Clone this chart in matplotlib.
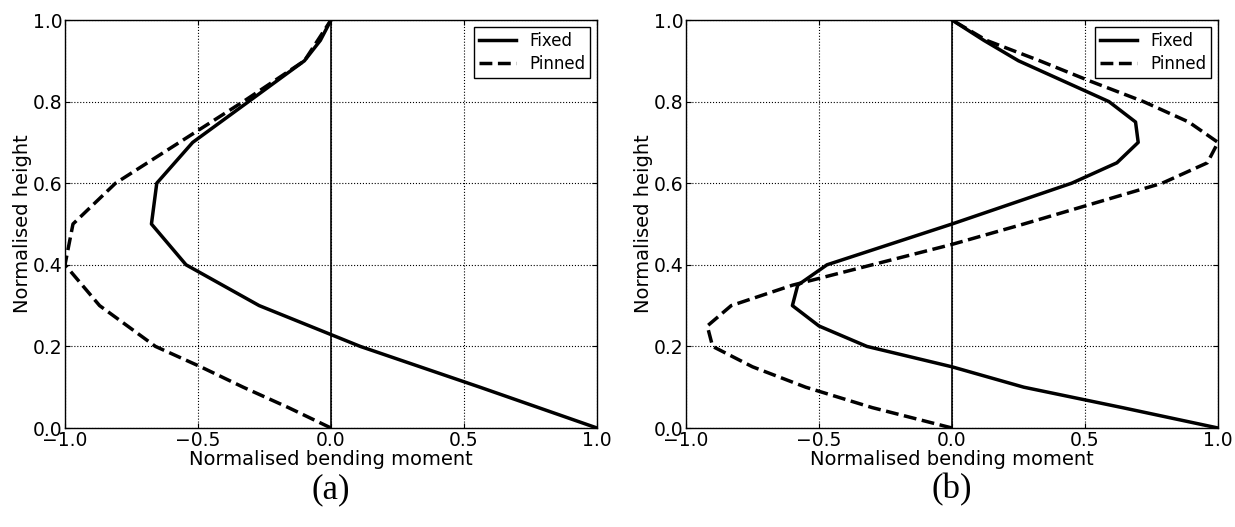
import matplotlib
matplotlib.use('Agg')
import matplotlib.pyplot as plt

# panel (a)
a_fixed_h = [0.0, 0.1, 0.2, 0.3, 0.4, 0.5, 0.6, 0.7, 0.8, 0.9, 0.95, 1.0]
a_fixed_m = [1.0, 0.56, 0.11, -0.27, -0.545, -0.675, -0.655, -0.52, -0.31, -0.1, -0.04, 0.0]
a_pinned_h = [0.0, 0.05, 0.1, 0.15, 0.2, 0.3, 0.4, 0.5, 0.6, 0.7, 0.8, 0.9, 1.0]
a_pinned_m = [0.0, -0.16, -0.33, -0.49, -0.66, -0.87, -1.0, -0.97, -0.81, -0.57, -0.33, -0.1, 0.0]

# panel (b)
b_fixed_h = [0.0, 0.05, 0.1, 0.15, 0.2, 0.25, 0.3, 0.35, 0.4, 0.5, 0.6, 0.65, 0.7, 0.75, 0.8, 0.9, 0.95, 1.0]
b_fixed_m = [1.0, 0.64, 0.27, 0.0, -0.32, -0.5, -0.6, -0.58, -0.47, 0.0, 0.45, 0.62, 0.7, 0.69, 0.59, 0.25, 0.12, 0.0]
b_pinned_h = [0.0, 0.05, 0.1, 0.15, 0.2, 0.25, 0.3, 0.35, 0.4, 0.45, 0.5, 0.55, 0.6, 0.65, 0.7, 0.75, 0.8, 0.85, 0.9, 0.95, 1.0]
b_pinned_m = [0.0, -0.3, -0.55, -0.75, -0.9, -0.92, -0.83, -0.6, -0.3, 0.0, 0.27, 0.53, 0.79, 0.96, 1.0, 0.89, 0.72, 0.52, 0.33, 0.13, 0.0]

panels = [
    ('(a)', a_fixed_m, a_fixed_h, a_pinned_m, a_pinned_h),
    ('(b)', b_fixed_m, b_fixed_h, b_pinned_m, b_pinned_h),
]

fig = plt.figure(figsize=(12.35, 5.27), dpi=100)
lefts = [65 / 1235, 686 / 1235]

for left, (tag, fm, fh, pm, ph) in zip(lefts, panels):
    ax = fig.add_axes([left, 99 / 527, 532 / 1235, 408 / 527])
    ax.plot(fm, fh, 'k-', lw=2.5, label='Fixed')
    ax.plot(pm, ph, 'k--', lw=2.5, label='Pinned')
    ax.axvline(0, color='k', lw=1.2)
    ax.set_xlim(-1, 1)
    ax.set_ylim(0, 1)
    ax.set_xticks([-1.0, -0.5, 0.0, 0.5, 1.0])
    ax.set_yticks([0.0, 0.2, 0.4, 0.6, 0.8, 1.0])
    ax.grid(True, color='k', linestyle=':', lw=0.8)
    ax.tick_params(direction='in', top=True, right=True, labelsize=13.5, pad=2)
    for s in ax.spines.values():
        s.set_linewidth(1.0)
    ax.set_xlabel('Normalised bending moment', fontsize=14, labelpad=0)
    ax.set_ylabel('Normalised height', fontsize=14, labelpad=0)
    leg = ax.legend(loc='upper right', fontsize=12, fancybox=False, framealpha=1,
                    edgecolor='k', handlelength=2.2, borderpad=0.3, labelspacing=0.3,
                    borderaxespad=0.4)
    leg.get_frame().set_linewidth(1.0)
    # panel tag below each axes
    fig.text(left + 266 / 1235, 1 - 490 / 527, tag, ha='center', va='center',
             fontsize=25, family='Liberation Serif')

fig.savefig('out.png', dpi=100, facecolor='white')
